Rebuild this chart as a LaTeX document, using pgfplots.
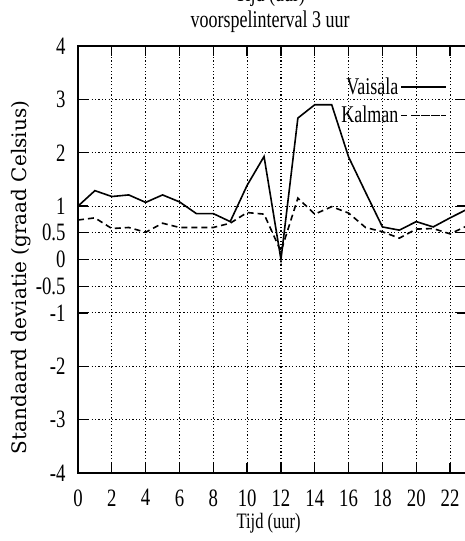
\documentclass[border=0pt]{standalone}
\usepackage{pgfplots}
\pgfplotsset{compat=1.18}
\usepackage{fontspec}
\setmainfont{Liberation Serif}[FakeStretch=0.75]
\newfontfamily\labfont{DejaVu Serif}
\newcommand\fs[1]{\fontsize{#1}{#1}\selectfont}

\begin{document}
\begin{tikzpicture}
\begin{axis}[
  at={(0pt,0pt)}, anchor=south west,
  scale only axis, width=389pt, height=427pt,
  xmin=0, xmax=23, ymin=-4, ymax=4,
  xtick={0,2,...,22},
  ytick={-4,-3,-2,-1,-0.5,0,0.5,1,2,3,4},
  /pgf/number format/assume math mode=true,
  tick label style={font=\fs{25}, text=black},
  xticklabel style={yshift=-13pt},
  yticklabel style={xshift=-9pt},
  tick align=inside, major tick length=10pt,
  tick style={black, line width=1.3pt},
  axis line style={black, line width=1.6pt},
  grid=major,
  major grid style={black, line width=1.1pt, dash pattern=on 1.2pt off 2.2pt},
  xlabel={\fs{22}Tijd (uur)},
  xlabel style={at={(axis description cs:0.49,-0.117)}, anchor=center},
  ylabel={\labfont\fs{20}Standaard deviatie (graad Celsius)},
  ylabel style={at={(axis description cs:-0.147,0.458)}, anchor=center},
  legend style={draw=none, fill=none, at={(axis cs:21.83,3.44)}, anchor=north east,
    inner sep=0pt, row sep=6pt, column sep=0pt},
  legend cell align=right, legend plot pos=right,
  legend image code/.code={\path (0pt,0pt) -- (45pt,0pt); \draw[#1] (13pt,0pt) -- (45pt,0pt);},
  clip=false,
]
\addplot[black, line width=1.6pt] coordinates {
(0,1.00) (1,1.29) (2,1.18) (3,1.21) (4,1.07) (5,1.21) (6,1.08) (7,0.86)
(8,0.86) (9,0.71) (10,1.39) (11,1.93) (12,0.00) (13,2.65) (14,2.90) (15,2.90)
(16,1.92) (17,1.26) (18,0.61) (19,0.55) (20,0.71) (21,0.61) (22,0.78) (23,0.94)};
\addlegendentry{\fs{24}Vaisala}
\addplot[black, line width=1.6pt, dash pattern=on 6pt off 4pt] coordinates {
(0,0.74) (1,0.78) (2,0.58) (3,0.60) (4,0.51) (5,0.68) (6,0.60) (7,0.60)
(8,0.60) (9,0.68) (10,0.88) (11,0.85) (12,0.15) (13,1.15) (14,0.85) (15,0.99)
(16,0.87) (17,0.60) (18,0.52) (19,0.40) (20,0.57) (21,0.58) (22,0.48) (23,0.63)};
\addlegendentry{\fs{24}Kalman}
\node at (axis description cs:0.494,1.056) {\fs{24}voorspelinterval 3 uur};
\node at (axis description cs:0.494,1.117) {\fs{24}Tijd (uur)};
\end{axis}
\pgfresetboundingbox
\useasboundingbox (-78pt,-68pt) rectangle (387pt,473pt);
\end{tikzpicture}
\end{document}
